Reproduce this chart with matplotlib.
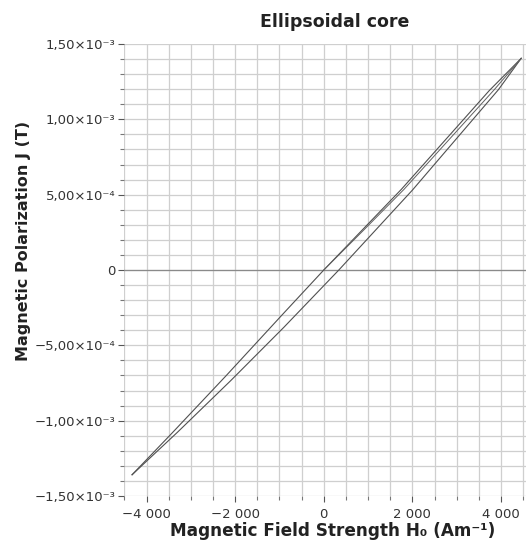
import matplotlib
matplotlib.use("Agg")
import matplotlib.pyplot as plt
from matplotlib.ticker import MultipleLocator, FuncFormatter
import numpy as np

# Hysteresis measurement of the ellipsoidal core: H0 in A/m, J in T
H_ascending = [-4328, -3300, -2100, -900, 340, 2000, 3940, 4457]
J_ascending = [-1.359e-3, -1.076e-3, -7.34e-4, -3.80e-4, 0.0, 5.30e-4, 1.196e-3, 1.405e-3]

H_descending = [4457, 3733, 1750, 0, -900, -2200, -3450, -4328]
J_descending = [1.405e-3, 1.19e-3, 5.35e-4, 0.0, -2.85e-4, -7.00e-4, -1.09e-3, -1.359e-3]

H_initial = [0, 918, 1810, 3846, 4457]
J_initial = [0.0, 2.70e-4, 5.35e-4, 1.196e-3, 1.405e-3]

x_ticks = [-4000, -2000, 0, 2000, 4000]
y_ticks = [-1.5e-3, -1.0e-3, -5.0e-4, 0.0, 5.0e-4, 1.0e-3, 1.5e-3]

title = "Ellipsoidal core"
x_label = "Magnetic Field Strength H\u2080 (Am\u207b\u00b9)"
y_label = "Magnetic Polarization J (T)"

plt.rcParams["font.family"] = ["DejaVu Sans"]

fig = plt.figure(figsize=(5.26, 5.47), dpi=100)
ax = fig.add_axes([124 / 526, 51 / 547, 1 - 124 / 526, 452 / 547])

ax.set_xlim(-4510, 4565)
ax.set_ylim(-1.5e-3, 1.5e-3)

for s in ax.spines.values():
    s.set_visible(False)

ax.xaxis.set_major_locator(plt.FixedLocator(x_ticks))
ax.xaxis.set_minor_locator(MultipleLocator(500))
ax.yaxis.set_major_locator(plt.FixedLocator(y_ticks))
ax.yaxis.set_minor_locator(MultipleLocator(1e-4))

ax.grid(True, which="both", color="#cfcfcf", linewidth=0.9)
ax.axhline(0, color="#8a8a8a", linewidth=0.9, zorder=1)
ax.set_axisbelow(True)


def fmt_x(v, pos):
    if abs(v) < 1e-9:
        return "0"
    s = f"{abs(int(round(v))):,}".replace(",", " ")
    return ("\u2212" if v < 0 else "") + s


sup = str.maketrans("-0123456789", "\u207b\u2070\u00b9\u00b2\u00b3\u2074\u2075\u2076\u2077\u2078\u2079")


def fmt_y(v, pos):
    if abs(v) < 1e-12:
        return "0"
    e = int(np.floor(np.log10(abs(v))))
    m = abs(v) / 10 ** e
    txt = f"{m:.2f}".replace(".", ",") + "\u00d710" + str(e).translate(sup)
    return ("\u2212" if v < 0 else "") + txt


ax.xaxis.set_major_formatter(FuncFormatter(fmt_x))
ax.yaxis.set_major_formatter(FuncFormatter(fmt_y))

ax.tick_params(axis="both", which="major", labelsize=9.5, colors="#555555",
               labelcolor="#333333", length=4, width=0.8)
ax.tick_params(axis="both", which="minor", colors="#777777", length=3, width=0.8)
ax.tick_params(axis="y", which="major", pad=2)
ax.tick_params(axis="x", which="major", pad=5)

line_kw = dict(color="#505050", linewidth=0.8)
ax.plot(H_ascending, J_ascending, **line_kw)
ax.plot(H_descending, J_descending, **line_kw)
ax.plot(H_initial, J_initial, color="#606060", linewidth=0.7)

fig.text(335 / 526, 1 - 22 / 547, title, ha="center", va="center",
         fontsize=12.5, fontweight="bold", color="#222222")
fig.text(333 / 526, 1 - 531 / 547, x_label, ha="center", va="center",
         fontsize=12.2, fontweight="bold", color="#222222")
fig.text(24 / 526, 1 - 241 / 547, y_label, ha="center", va="center",
         rotation=90, fontsize=11.5, fontweight="bold", color="#222222")

fig.savefig("out.png", dpi=100)
